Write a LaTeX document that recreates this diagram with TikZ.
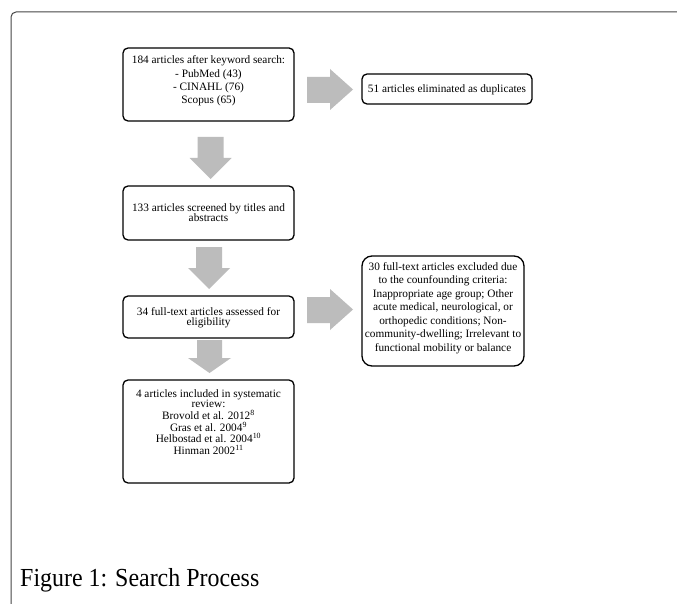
\documentclass[tikz,border=0pt]{standalone}
\usepackage{fontspec}
\setmainfont{Liberation Serif}
\newfontfamily\capfont[FakeStretch=0.92]{Liberation Serif}
\definecolor{arrgray}{RGB}{188,188,188}
\definecolor{framec}{RGB}{70,70,70}
\begin{document}
\lineskiplimit=-100pt
\lineskip=0pt
\begin{tikzpicture}[x=1pt,y=-1pt,
  box/.style={draw=black, line width=1.3pt, rounded corners=5pt, inner sep=0pt},
  txt/.style={align=center, inner sep=0pt, font=\fontsize{11.3}{10}\selectfont},
  blockarrow/.style={fill=arrgray, draw=none}]
\useasboundingbox (0,0) rectangle (677,604);
\fill[white] (0,0) rectangle (677,604);
% frame
\draw[framec, line width=1pt, rounded corners=5pt] (11,604) -- (11,12) -- (677,12);
% boxes
\node[box, minimum width=171pt, minimum height=73pt] (b1) at (208.5,84.5) {};
\node[txt] (t1) at (208.5,81) {184 articles after keyword search:\\[3.3pt] - PubMed (43)\\[3.3pt] - CINAHL (76)\\[3.3pt] Scopus (65)};
\node[box, minimum width=170pt, minimum height=30pt] (bd) at (447,89) {};
\node[txt] (td) at (447,89.5) {51 articles eliminated as duplicates};
\node[box, minimum width=171pt, minimum height=54pt] (b2) at (208.5,213) {};
\node[txt] (t2) at (208.5,213) {133 articles screened by titles and\\ abstracts};
\node[box, minimum width=171pt, minimum height=42pt] (b3) at (208.5,317) {};
\node[txt] (t3) at (208.5,318) {34 full-text articles assessed for\\ eligibility};
\node[box, rounded corners=10pt, minimum width=162pt, minimum height=110pt] (b5) at (443,311) {};
\node[txt, font=\fontsize{11.3}{13.5}\selectfont] (t5) at (443,308) {30 full-text articles excluded due\\ to the counfounding criteria:\\ Inappropriate age group; Other\\ acute medical, neurological, or\\ orthopedic conditions; Non-\\ community-dwelling; Irrelevant to\\ functional mobility or balance};
\node[box, minimum width=171pt, minimum height=103pt] (b4) at (208.5,431.5) {};
\node[txt] (t4) at (208.5,422) {4 articles included in systematic\\ review:\\[2pt] Brovold et al. 2012\textsuperscript{8}\\[1.5pt] Gras et al. 2004\textsuperscript{9}\\[1.5pt] Helbostad et al. 2004\textsuperscript{10}\\[1.5pt] Hinman 2002\textsuperscript{11}};
% block arrows
\fill[blockarrow] (197.5,137) -- (223.5,137) -- (223.5,158) -- (231.5,158) -- (210.5,179) -- (189.5,158) -- (197.5,158) -- cycle;
\fill[blockarrow] (196,247) -- (222,247) -- (222,268) -- (230,268) -- (209,289) -- (188,268) -- (196,268) -- cycle;
\fill[blockarrow] (197,340) -- (222,340) -- (222,358) -- (231,358) -- (209.5,373) -- (188,358) -- (197,358) -- cycle;
\fill[blockarrow] (307,77) -- (330,77) -- (330,69) -- (353,89.5) -- (330,110) -- (330,103) -- (307,103) -- cycle;
\fill[blockarrow] (307,297) -- (330,297) -- (330,289) -- (353,309.5) -- (330,330) -- (330,323) -- (307,323) -- cycle;
% caption
\node[anchor=base west, inner sep=0pt, font=\capfont\fontsize{26}{30}\selectfont] (cap) at (20,586) {Figure 1: Search Process};
\end{tikzpicture}
\end{document}
